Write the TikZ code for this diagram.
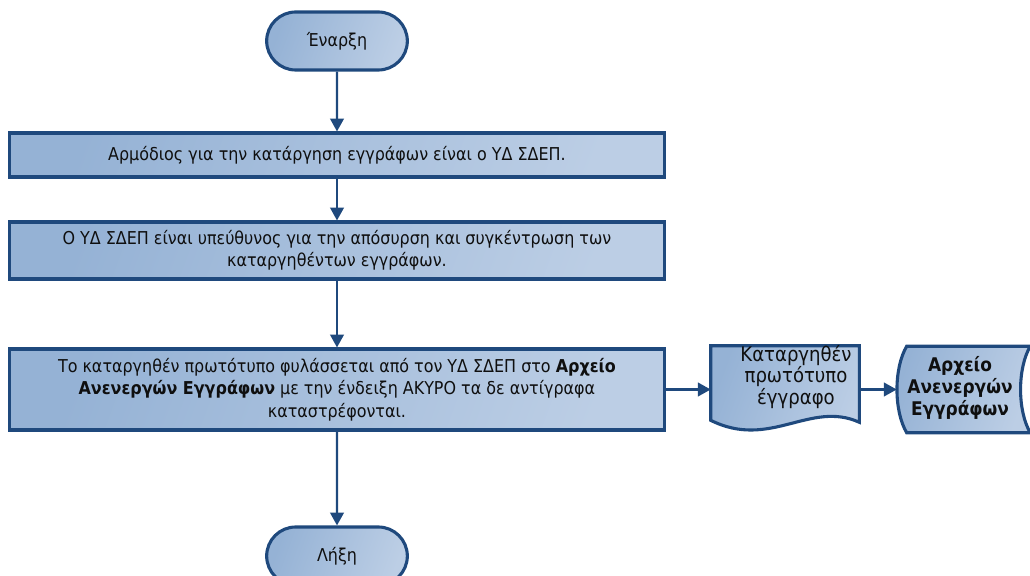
\documentclass[tikz,border=0pt]{standalone}
\usepackage{fontspec}
\setmainfont{DejaVu Sans Condensed}
\usetikzlibrary{arrows.meta,positioning,calc,shapes.misc}
\definecolor{fcline}{RGB}{31,73,125}
\definecolor{fclo}{RGB}{149,178,213}
\definecolor{fchi}{RGB}{188,206,229}
\definecolor{fctext}{RGB}{15,15,15}
\tikzset{
  fcfill/.style={left color=fclo, right color=fchi, shading angle=70},
  term/.style={rounded rectangle, draw=fcline, line width=2.2pt, fcfill,
               minimum width=3.75cm, minimum height=1.45cm, text=fctext, font=\fcfont},
  stepbox/.style={rectangle, draw=fcline, line width=2.2pt, fcfill,
               minimum width=16.35cm, align=center, text=fctext, font=\fcfont},
  shp/.style={draw=fcline, line width=2.2pt, fcfill},
  lbl/.style={align=center, text=fctext, font=\fcbig, inner sep=0pt},
  flow/.style={-{Triangle[length=3.2mm, width=3.4mm]}, fcline, line width=1.5pt},
}
\newcommand{\fcfont}{\fontsize{12.6}{16}\selectfont}
\newcommand{\fcbig}{\fontsize{14.3}{15.5}\selectfont}
\newcommand{\fcarch}{\fontsize{13.4}{15.8}\selectfont}

\begin{document}
\begin{tikzpicture}[x=0.025cm, y=-0.025cm]
  \useasboundingbox (0,0) rectangle (1030,576);
  \clip (0,0) rectangle (1030,576);
  % main column
  \node[term] (start) at (337,41) {Έναρξη};
  \node[stepbox, minimum height=1.1cm] (b1) at (337,155)
    {Αρμόδιος για την κατάργηση εγγράφων είναι ο ΥΔ ΣΔΕΠ.};
  \node[stepbox, minimum height=1.425cm] (b2) at (337,250.5)
    {Ο ΥΔ ΣΔΕΠ είναι υπεύθυνος για την απόσυρση και συγκέντρωση των\\
     καταργηθέντων εγγράφων.};
  \node[stepbox, minimum height=2.025cm] (b3) at (337,389.5)
    {Το καταργηθέν πρωτότυπο φυλάσσεται από τον ΥΔ ΣΔΕΠ στο \textbf{Αρχείο}\\
     \textbf{Ανενεργών Εγγράφων} με την ένδειξη ΑΚΥΡΟ τα δε αντίγραφα\\
     καταστρέφονται.};
  \node[term] (end) at (337,556) {Λήξη};
  % document
  \node[minimum width=3.7cm, minimum height=1.85cm] (doc) at (785,383) {};
  \draw[shp] (doc.north west) -- (doc.north east) -- ($(doc.south east)+(0,2)$)
    .. controls (810,400) and (770,450) .. (doc.south west) -- cycle;
  \node[lbl] (doctxt) at (796,377) {Καταργηθέν\\πρωτότυπο\\έγγραφο};
  % archive
  \node[minimum width=3.325cm, minimum height=2.15cm] (arch) at (963.5,389.5) {};
  \draw[shp] ($(arch.north west)+(10,0)$) -- (arch.north east)
    .. controls +(-13,22) and +(-13,-22) .. (arch.south east)
    -- ($(arch.south west)+(10,0)$)
    .. controls +(-13,-22) and +(-13,22) .. ($(arch.north west)+(10,0)$) -- cycle;
  \node[lbl, font=\fcarch] (archtxt) at (960,388)
    {\textbf{Αρχείο}\\\textbf{Ανενεργών}\\\textbf{Εγγράφων}};
  % connectors
  \draw[flow] (start) -- (b1);
  \draw[flow] (b1) -- (b2);
  \draw[flow] (b2) -- (b3);
  \draw[flow] (b3) -- (end);
  \draw[flow] (b3.east) -- (b3.east -| doc.west);
  \draw[flow] (b3.east -| doc.east) -- (arch.west);
\end{tikzpicture}
\end{document}
